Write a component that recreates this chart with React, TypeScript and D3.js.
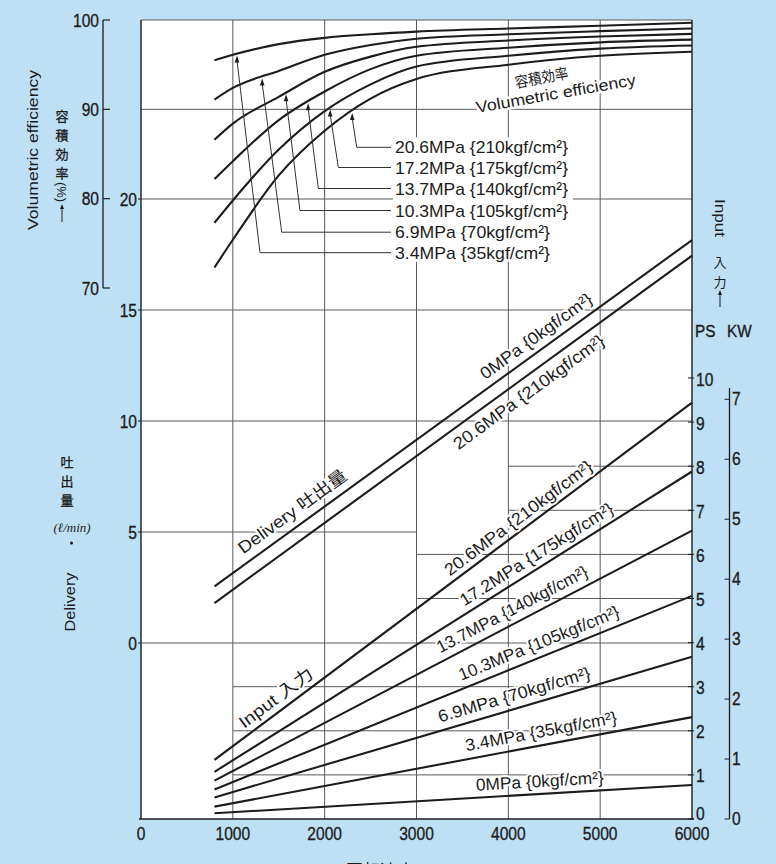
import React from 'react';
import * as d3 from 'd3';

const W = 776;
const H = 864;

// ---------- data ----------
const rpmTicks = [0, 1000, 2000, 3000, 4000, 5000, 6000];
const volTicks = [70, 80, 90, 100];
const deliveryTicks = [0, 5, 10, 15, 20];
const psTicks = [0, 1, 2, 3, 4, 5, 6, 7, 8, 9, 10];
const kwTicks = [0, 1, 2, 3, 4, 5, 6, 7];

// volumetric efficiency (%) vs speed
const volRpm = [800, 1000, 1500, 2000, 2500, 3000, 4000, 5000, 6000];
const vol34 = [95.5, 96.1, 97.3, 98.0, 98.4, 98.7, 99.05, 99.35, 99.7];
const vol69 = [91.1, 92.4, 94.3, 96.1, 97.2, 97.9, 98.4, 98.75, 99.05];
const vol103 = [86.6, 88.4, 91.4, 94.2, 95.9, 97.0, 97.7, 98.15, 98.45];
const vol137 = [82.2, 84.2, 88.8, 92.0, 94.5, 96.0, 96.9, 97.5, 97.8];
const vol172 = [77.3, 79.8, 85.5, 89.8, 92.8, 94.8, 96.0, 96.8, 97.15];
const vol206 = [72.3, 75.4, 82.6, 87.6, 91.2, 93.4, 95.0, 96.0, 96.45];
const volLabels = [
  '3.4MPa {35kgf/cm²}',
  '6.9MPa {70kgf/cm²}',
  '10.3MPa {105kgf/cm²}',
  '13.7MPa {140kgf/cm²}',
  '17.2MPa {175kgf/cm²}',
  '20.6MPa {210kgf/cm²}',
];

// delivery (l/min) vs speed
const lineRpm = [800, 6000];
const delivery0 = [2.55, 18.15];
const delivery206 = [1.8, 17.45];

// input (PS) vs speed
const input206 = [1.34, 9.44];
const input172 = [1.07, 7.88];
const input137 = [0.87, 6.54];
const input103 = [0.67, 5.06];
const input69 = [0.49, 3.68];
const input34 = [0.28, 2.31];
const input0 = [0.13, 0.77];

// ---------- layout ----------
const PL = 141, PR = 692, PT = 20, PB = 819;
const x = d3.scaleLinear().domain([0, 6000]).range([PL, PR]);
const vol = d3.scaleLinear().domain([70, 100]).range([288, PT]);
const del = d3.scaleLinear().domain([0, 20]).range([643, 199]);
const ps = d3.scaleLinear().domain([0, 10]).range([PB, 378]);
const kw = (v: number) => ps(v * 1.3596);

const FONT = "'Liberation Sans', Arial, 'Noto Sans CJK JP', sans-serif";
const CJK = "'Noto Sans CJK JP', 'Noto Sans CJK SC', sans-serif";
const INK = '#1c1c1c';
const GRID = '#5a5a5a';
const BG = '#bde0f5';

const volSeries = [vol34, vol69, vol103, vol137, vol172, vol206];
// leader layout: arrow tip rpm, foot rpm, label centre y
const leaders = [
  { tip: 1045, foot: 1296, ly: 252.7 },
  { tip: 1320, foot: 1532, ly: 232.2 },
  { tip: 1580, foot: 1731, ly: 210.5 },
  { tip: 1820, foot: 1931, ly: 188.5 },
  { tip: 2060, foot: 2149, ly: 167.5 },
  { tip: 2300, foot: 2349, ly: 147.3 },
];
const legendLen = [155, 155, 173, 173, 173, 173];

type Lab = { text: string; vals: number[]; scale: (v: number) => number; rpm: number; off: number; len: number };
const lineLabels: Lab[] = [
  { text: 'Delivery  吐出量', vals: delivery0, scale: del, rpm: 1170, off: -9, len: 130 },
  { text: '0MPa {0kgf/cm²}', vals: delivery0, scale: del, rpm: 3800, off: -8, len: 134 },
  { text: '20.6MPa {210kgf/cm²}', vals: delivery206, scale: del, rpm: 3330, off: 20, len: 182 },
  { text: 'Input  入力', vals: input206, scale: ps, rpm: 1170, off: -7, len: 88 },
  { text: '20.6MPa {210kgf/cm²}', vals: input206, scale: ps, rpm: 3400, off: -6, len: 180 },
  { text: '17.2MPa {175kgf/cm²}', vals: input172, scale: ps, rpm: 3560, off: -7, len: 178 },
  { text: '13.7MPa {140kgf/cm²}', vals: input137, scale: ps, rpm: 3300, off: -8, len: 168 },
  { text: '10.3MPa {105kgf/cm²}', vals: input103, scale: ps, rpm: 3520, off: -8, len: 172 },
  { text: '6.9MPa {70kgf/cm²}', vals: input69, scale: ps, rpm: 3280, off: -8, len: 158 },
  { text: '3.4MPa {35kgf/cm²}', vals: input34, scale: ps, rpm: 3560, off: -8, len: 154 },
  { text: '0MPa {0kgf/cm²}', vals: input0, scale: ps, rpm: 3655, off: -7, len: 128 },
];

const hGrid: { s: (v: number) => number; v: number; from: number; to: number }[] = [
  { s: vol, v: 90, from: 0, to: 6000 },
  { s: del, v: 20, from: 0, to: 6000 },
  { s: del, v: 15, from: 0, to: 6000 },
  { s: del, v: 10, from: 0, to: 6000 },
  { s: del, v: 5, from: 0, to: 3000 },
  { s: del, v: 0, from: 0, to: 6000 },
  { s: ps, v: 8, from: 4000, to: 6000 },
  { s: ps, v: 7, from: 4000, to: 6000 },
  { s: ps, v: 6, from: 3000, to: 6000 },
  { s: ps, v: 5, from: 3000, to: 6000 },
  { s: ps, v: 3, from: 1000, to: 6000 },
  { s: ps, v: 2, from: 1000, to: 6000 },
  { s: ps, v: 1, from: 1000, to: 6000 },
];

function lin(xs: number[], ys: number[], t: number) {
  for (let i = 0; i < xs.length - 1; i++) {
    if (t >= xs[i] && t <= xs[i + 1]) {
      const f = (t - xs[i]) / (xs[i + 1] - xs[i]);
      return ys[i] + f * (ys[i + 1] - ys[i]);
    }
  }
  return ys[ys.length - 1];
}

function Num({ x: px, y: py, children, anchor = 'middle', size = 19, sx = 0.82 }: any) {
  return (
    <g transform={`translate(${px},${py}) scale(${sx},1)`}>
      <text textAnchor={anchor} dominantBaseline="central" fontSize={size} fill={INK} stroke={INK} strokeWidth={0.35}>
        {children}
      </text>
    </g>
  );
}

export default function App() {
  const curve = d3
    .line<[number, number]>()
    .x((d) => x(d[0]))
    .y((d) => vol(d[1]))
    .curve(d3.curveMonotoneX);
  const straight = (vals: number[], s: (v: number) => number) =>
    d3
      .line<[number, number]>()
      .x((d) => x(d[0]))
      .y((d) => s(d[1]))(lineRpm.map((r, i) => [r, vals[i]] as [number, number])) || '';

  const lineSeries: { vals: number[]; s: (v: number) => number }[] = [
    { vals: delivery0, s: del },
    { vals: delivery206, s: del },
    { vals: input206, s: ps },
    { vals: input172, s: ps },
    { vals: input137, s: ps },
    { vals: input103, s: ps },
    { vals: input69, s: ps },
    { vals: input34, s: ps },
    { vals: input0, s: ps },
  ];

  const halo = { stroke: '#ffffff', strokeWidth: 5, paintOrder: 'stroke' as any, strokeLinejoin: 'round' as any };

  return (
    <div style={{ position: 'absolute', left: 0, top: 0, width: W, height: H, background: BG }}>
      <svg width={W} height={H} style={{ display: 'block' }} fontFamily={FONT}>
        <rect x={0} y={0} width={W} height={H} fill={BG} />
        <rect x={PL} y={PT} width={PR - PL} height={PB - PT} fill="#ffffff" />

        {/* grid */}
        {rpmTicks.slice(1, -1).map((r) => (
          <line key={'v' + r} x1={x(r)} x2={x(r)} y1={PT} y2={PB} stroke={GRID} strokeWidth={1} />
        ))}
        {hGrid.map((g, i) => (
          <line key={'h' + i} x1={x(g.from)} x2={x(g.to)} y1={g.s(g.v)} y2={g.s(g.v)} stroke={GRID} strokeWidth={1} />
        ))}
        <line x1={PL} x2={PR} y1={PT} y2={PT} stroke={GRID} strokeWidth={1} />

        {/* white block behind the pressure legend */}
        <rect x={393} y={leaders[5].ly - 10} width={180} height={leaders[0].ly - leaders[5].ly + 19} fill="#ffffff" />

        {/* volumetric efficiency curves */}
        {volSeries.map((vals, i) => (
          <path
            key={'vc' + i}
            d={curve(volRpm.map((r, j) => [r, vals[j]] as [number, number])) || ''}
            fill="none"
            stroke={INK}
            strokeWidth={2.1}
          />
        ))}

        {/* leaders + legend */}
        {leaders.map((l, i) => {
          const tx = x(l.tip);
          const ty = vol(lin(volRpm, volSeries[i], l.tip)) + 1.5;
          const fx = x(l.foot);
          return (
            <g key={'ld' + i}>
              <polyline points={`${tx},${ty + 5} ${fx},${l.ly} 391,${l.ly}`} fill="none" stroke="#333" strokeWidth={1} />
              <polygon points={`${tx},${ty} ${tx - 2.3},${ty + 7} ${tx + 2.3},${ty + 7}`} fill={INK} />
              <text
                x={395}
                y={l.ly + 6}
                fontSize={17}
                textLength={legendLen[i]}
                lengthAdjust="spacingAndGlyphs"
                fill={INK}
              >
                {volLabels[i]}
              </text>
            </g>
          );
        })}

        {/* volumetric efficiency label inside plot */}
        <text
          transform="translate(516,88) rotate(-10.5)"
          fontSize={15}
          fontFamily={CJK}
          textLength={54}
          lengthAdjust="spacingAndGlyphs"
          fill={INK}
          {...halo}
        >
          容積効率
        </text>
        <text
          transform="translate(477,113) rotate(-10)"
          fontSize={16}
          textLength={162}
          lengthAdjust="spacingAndGlyphs"
          fill={INK}
          {...halo}
        >
          Volumetric efficiency
        </text>

        {/* delivery & input lines */}
        {lineSeries.map((s, i) => (
          <path key={'ln' + i} d={straight(s.vals, s.s)} fill="none" stroke={INK} strokeWidth={2.1} />
        ))}
        {lineLabels.map((l, i) => {
          const x1 = x(lineRpm[0]);
          const y1 = l.scale(l.vals[0]);
          const x2 = x(lineRpm[1]);
          const y2 = l.scale(l.vals[1]);
          const ang = (Math.atan2(y2 - y1, x2 - x1) * 180) / Math.PI;
          const px = x(l.rpm);
          const py = l.scale(lin(lineRpm, l.vals, l.rpm));
          return (
            <text
              key={'ll' + i}
              transform={`translate(${px},${py}) rotate(${ang}) translate(0,${l.off})`}
              fontSize={17}
              textLength={l.len}
              lengthAdjust="spacingAndGlyphs"
              fill={INK}
              {...halo}
              strokeWidth={4}
            >
              {l.text}
            </text>
          );
        })}

        {/* frame */}
        <line x1={PL} x2={PL} y1={PT} y2={PB} stroke={INK} strokeWidth={1.4} />
        <line x1={PR} x2={PR} y1={PT} y2={PB} stroke={INK} strokeWidth={1.4} />
        <line x1={PL - 2} x2={PR + 2} y1={PB} y2={PB} stroke={INK} strokeWidth={1.6} />

        {/* x axis labels */}
        {rpmTicks.map((r) => (
          <Num key={'xt' + r} x={x(r)} y={833}>
            {r}
          </Num>
        ))}
        <text x={346} y={877} fontSize={17} fill={INK}>
          回転速度　Speed (min⁻¹)
        </text>

        {/* volumetric axis */}
        <line x1={103} x2={103} y1={vol(100)} y2={vol(70)} stroke={INK} strokeWidth={1.3} />
        {volTicks.map((v) => (
          <g key={'vt' + v}>
            <line x1={103} x2={110} y1={vol(v)} y2={vol(v)} stroke={INK} strokeWidth={1.2} />
            <Num x={99} y={vol(v)} anchor="end">
              {v}
            </Num>
          </g>
        ))}

        {/* delivery axis */}
        {deliveryTicks.map((v) => (
          <g key={'dt' + v}>
            <line x1={138} x2={PL} y1={del(v)} y2={del(v)} stroke={INK} strokeWidth={1} />
            <Num x={137} y={del(v)} anchor="end">
              {v}
            </Num>
          </g>
        ))}

        {/* PS axis */}
        {psTicks.map((v) => (
          <g key={'pt' + v}>
            <line x1={PR - 4} x2={PR + 2} y1={ps(v)} y2={ps(v)} stroke={INK} strokeWidth={1} />
            <Num x={696} y={v === 0 ? ps(v) - 6 : ps(v) + 1} anchor="start">
              {v}
            </Num>
          </g>
        ))}

        {/* KW axis */}
        <line x1={729.5} x2={729.5} y1={388} y2={PB} stroke={INK} strokeWidth={1.3} />
        {kwTicks.map((v) => (
          <g key={'kt' + v}>
            <line x1={724.5} x2={729.5} y1={kw(v)} y2={kw(v)} stroke={INK} strokeWidth={1} />
            <Num x={732} y={kw(v) - 1} anchor="start">
              {v}
            </Num>
          </g>
        ))}
        <Num x={695} y={331} anchor="start" size={17} sx={0.9}>
          PS
        </Num>
        <Num x={727} y={331} anchor="start" size={17} sx={0.9}>
          KW
        </Num>

        {/* right title: Input 入力 */}
        <text transform="translate(715,199) rotate(90)" fontSize={15} textLength={38} lengthAdjust="spacingAndGlyphs" fill={INK}>
          Input
        </text>
        <text x={720} y={261} fontSize={13} fontFamily={CJK} textAnchor="middle" dominantBaseline="central" fill={INK}>
          入
        </text>
        <text x={720} y={281} fontSize={13} fontFamily={CJK} textAnchor="middle" dominantBaseline="central" fill={INK}>
          力
        </text>
        <line x1={720} x2={720} y1={293} y2={307} stroke={INK} strokeWidth={1} />
        <polygon points="720,290 718,295 722,295" fill={INK} />

        {/* left title: volumetric efficiency */}
        <text
          transform="translate(38,150) rotate(-90)"
          fontSize={15}
          textAnchor="middle"
          textLength={160}
          lengthAdjust="spacingAndGlyphs"
          fill={INK}
        >
          Volumetric efficiency
        </text>
        {['容', '積', '効', '率'].map((c, i) => (
          <text key={'vj' + i} x={62} y={[115, 134, 153, 172][i]} fontSize={13} fontFamily={CJK} textAnchor="middle" dominantBaseline="central" fill={INK} stroke={INK} strokeWidth={0.3}>
            {c}
          </text>
        ))}
        <text transform="translate(57,192) rotate(90)" fontSize={13} textAnchor="middle" fill={INK}>
          (%)
        </text>
        <line x1={62} x2={62} y1={207} y2={222} stroke={INK} strokeWidth={1} />
        <polygon points="62,204 60,209 64,209" fill={INK} />

        {/* left title: delivery */}
        {['吐', '出', '量'].map((c, i) => (
          <text key={'dj' + i} x={67} y={[461, 480, 499][i]} fontSize={13} fontFamily={CJK} textAnchor="middle" dominantBaseline="central" fill={INK} stroke={INK} strokeWidth={0.3}>
            {c}
          </text>
        ))}
        <text x={72} y={527} fontSize={13} fontStyle="italic" fontFamily="'Liberation Serif', serif" textAnchor="middle" dominantBaseline="central" fill={INK}>
          (ℓ/min)
        </text>
        <circle cx={71.5} cy={543} r={1.5} fill={INK} />
        <text
          transform="translate(75,602) rotate(-90)"
          fontSize={15}
          textAnchor="middle"
          textLength={59}
          lengthAdjust="spacingAndGlyphs"
          fill={INK}
        >
          Delivery
        </text>
      </svg>
    </div>
  );
}
